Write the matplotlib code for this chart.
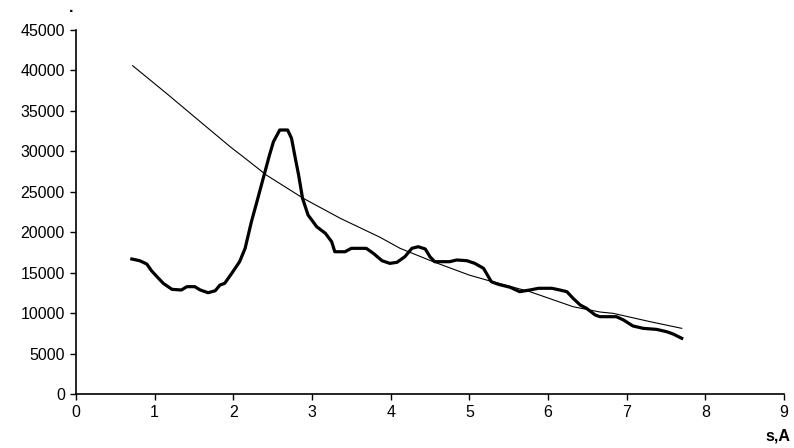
import matplotlib
matplotlib.use("Agg")
import matplotlib.pyplot as plt

plt.rcParams['font.family'] = ['Liberation Sans', 'DejaVu Sans']

# thick (experimental) curve
s_exp = [0.71, 0.81, 0.90, 0.96, 1.03, 1.11, 1.22, 1.34, 1.41, 1.51, 1.58, 1.68,
         1.77, 1.83, 1.89, 1.98, 2.08, 2.15, 2.23, 2.30, 2.38, 2.46, 2.51, 2.59,
         2.69, 2.74, 2.78, 2.83, 2.88, 2.95, 3.06, 3.17, 3.25, 3.29, 3.42, 3.50,
         3.69, 3.78, 3.89, 3.99, 4.08, 4.18, 4.27, 4.35, 4.44, 4.50, 4.56, 4.75,
         4.84, 4.97, 5.07, 5.18, 5.28, 5.37, 5.52, 5.64, 5.77, 5.88, 6.05, 6.15,
         6.24, 6.32, 6.41, 6.49, 6.60, 6.66, 6.87, 6.96, 7.08, 7.21, 7.38, 7.51,
         7.59, 7.70]
v_exp = [16690, 16480, 16070, 15240, 14500, 13680, 12940, 12860, 13270, 13270, 12860, 12520,
         12770, 13470, 13680, 14920, 16360, 18010, 21300, 23780, 26670, 29550, 31190, 32640,
         32640, 31610, 29550, 27070, 24190, 22130, 20680, 19870, 18830, 17590, 17590, 18010,
         18010, 17390, 16480, 16150, 16280, 16970, 18010, 18210, 17930, 16970, 16360, 16360,
         16570, 16480, 16150, 15540, 13880, 13560, 13190, 12650, 12860, 13070, 13070, 12860,
         12650, 11820, 11000, 10590, 9770, 9560, 9560, 9150, 8410, 8120, 7990, 7700,
         7420, 6890]

# thin (fitted) curve
s_fit = [0.72, 1.15, 1.58, 1.96, 2.15, 2.42, 2.89, 3.36, 3.86, 4.12, 4.54, 5.00,
         5.22, 5.77, 6.32, 6.66, 6.83, 7.30, 7.70]
v_fit = [40590, 37170, 33660, 30570, 29140, 27070, 24190, 21720, 19400, 18010, 16360, 14700,
         14090, 12650, 10790, 10140, 9970, 8940, 8120]

fig = plt.figure(figsize=(7.94, 4.48), dpi=100)
ax = fig.add_axes([0.0957, 0.1205, 0.8917, 0.8125])

ax.plot(s_fit, v_fit, color='black', lw=0.8)
ax.plot(s_exp, v_exp, color='black', lw=2.3, solid_joinstyle='round')

ax.set_xlim(0, 9)
ax.set_ylim(0, 45000)
ax.set_xticks(range(0, 10))
ax.set_yticks(range(0, 45001, 5000))
ax.spines['top'].set_visible(False)
ax.spines['right'].set_visible(False)
for sp in ax.spines.values():
    sp.set_linewidth(1.2)
ax.tick_params(direction='out', length=4, width=1, labelsize=11.5, pad=4)

fig.text(0.0895, 1.0, '.', ha='center', va='top', fontsize=11.5, fontweight='bold')
fig.text(0.995, 0.01, 's,A', ha='right', va='bottom', fontsize=11.5, fontweight='bold')

fig.savefig('out.png', dpi=100)
